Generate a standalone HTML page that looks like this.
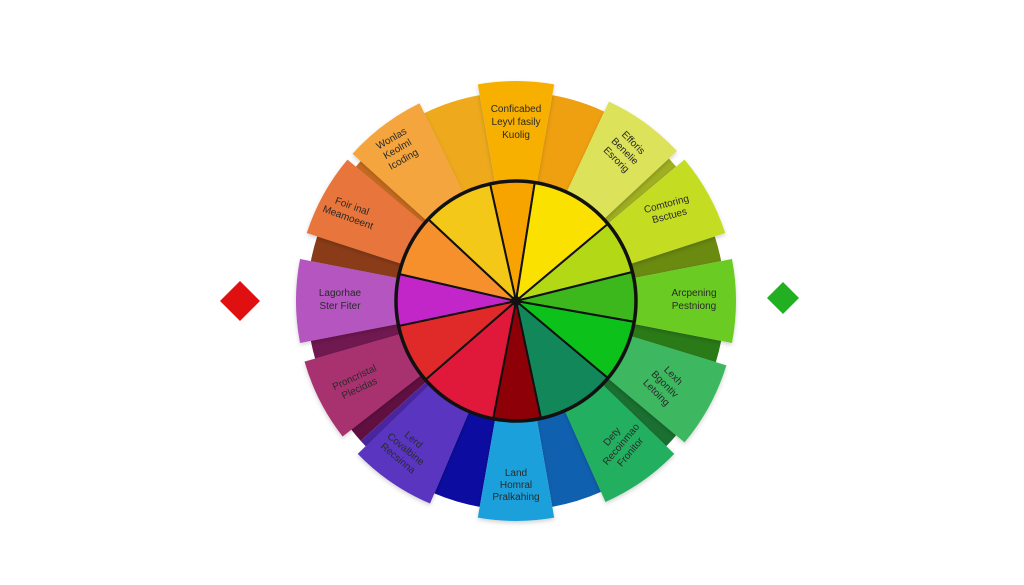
<!DOCTYPE html>
<html><head><meta charset="utf-8"><style>
html,body{margin:0;padding:0;background:#fff;}
svg{display:block;}
text{font-family:"Liberation Sans",sans-serif;font-size:10px;fill:#2a2a2a;text-anchor:middle;}
</style></head><body>
<svg id="s" width="1024" height="585" viewBox="0 0 1024 585" xmlns="http://www.w3.org/2000/svg">
<defs><filter id="sh" x="-20%" y="-20%" width="140%" height="140%"><feDropShadow dx="0" dy="2" stdDeviation="2" flood-color="#000" flood-opacity="0.18"/></filter></defs>
<polygon points="240,281 260,301 240,321 220,301" fill="#e01010"/>
<polygon points="783,282 799,298 783,314 767,298" fill="#22b022"/>
<g id="ring"></g>
<g id="cards" filter="url(#sh)"></g>
<g id="inner"></g>
<g id="labels">
<text x="516" y="112">Conficabed</text><text x="516" y="125">Leyvl fasily</text><text x="516" y="138">Kuolig</text>
<g transform="translate(398,150) rotate(-30)"><text y="-10">Wonlas</text><text y="2">Keolml</text><text y="14">Icoding</text></g>
<g transform="translate(350,212) rotate(20)"><text y="-3">Foir inal</text><text y="9">Meamoeent</text></g>
<text x="340" y="296">Lagorhae</text><text x="340" y="309">Ster Fiter</text>
<g transform="translate(357,383) rotate(-25)"><text y="-3">Proncristal</text><text y="9">Plecidas</text></g>
<g transform="translate(405,450) rotate(40)"><text y="-10">Lerd</text><text y="2">Covalbine</text><text y="14">Recsinna</text></g>
<text x="516" y="476">Land</text><text x="516" y="488">Homral</text><text x="516" y="500">Pralkahing</text>
<g transform="translate(624,152) rotate(45)"><text y="-10">Efforis</text><text y="2">Benelie</text><text y="14">Esrorig</text></g>
<g transform="translate(668,210) rotate(-15)"><text y="-3">Comtoring</text><text y="9">Bsctues</text></g>
<text x="694" y="296">Arcpening</text><text x="694" y="309">Pestniong</text>
<g transform="translate(664,385) rotate(45)"><text y="-10">Lexh</text><text y="2">Bgontiv</text><text y="14">Letoing</text></g>
<g transform="translate(622,445) rotate(-50)"><text y="-10">Dety</text><text y="2">Recoinmao</text><text y="14">Fronitor</text></g>
</g>
</svg>
<script>
var cx=516,cy=301,NS="http://www.w3.org/2000/svg";
function P(r,a){a=a*Math.PI/180;return [cx+r*Math.sin(a),cy-r*Math.cos(a)];}
function seg(r1,r2,a1,a2){var p1=P(r2,a1),p2=P(r2,a2),p3=P(r1,a2),p4=P(r1,a1);var l=(a2-a1)>180?1:0;
return "M"+p1+" A"+r2+","+r2+" 0 "+l+" 1 "+p2+" L"+p3+" A"+r1+","+r1+" 0 "+l+" 0 "+p4+"Z";}
function wedge(r,a1,a2){var p1=P(r,a1),p2=P(r,a2);return "M"+cx+","+cy+" L"+p1+" A"+r+","+r+" 0 0 1 "+p2+"Z";}
function add(g,d,f,extra){var e=document.createElementNS(NS,"path");e.setAttribute("d",d);e.setAttribute("fill",f);if(extra)for(var k in extra)e.setAttribute(k,extra[k]);document.getElementById(g).appendChild(e);}
var ring=[[-26,-10,"#eeaa1c"],[10,25,"#eea010"],[-50,-48,"#c86c20"],[-79,-72,"#8a3c18"],[-106,-101,"#701850"],[-132,-128,"#601040"],[190,203,"#0c0ca0"],[156,170,"#1060b0"],[130,134,"#1a7030"],[101,107,"#2a7a18"],[72,79,"#6a8a10"],[47,50,"#a0b020"],[-48,-26,"#e09030"],[-72,-50,"#c85a28"],[-101,-79,"#8a3a90"],[-128,-106,"#801e55"],[-157,-132,"#4a25a0"],[134,156,"#189050"],[107,130,"#2a9048"]];
ring.forEach(function(s){add("ring",seg(118,209,s[0],s[1]),s[2]);});
var cards=[[-10,10,"#f8b000"],[-48,-26,"#f5a53c"],[-72,-50,"#e8743a"],[-101,-79,"#b455c0"],[-128,-106,"#a83070"],[-157,-134,"#5a35c0"],[170,190,"#1aa0dc"],[134,156,"#20b060"],[107,130,"#3cb860"],[79,101,"#6acc20"],[50,72,"#c4dc22"],[25,47,"#dce25a"]];
cards.forEach(function(s){add("cards",seg(118,220,s[0],s[1]),s[2]);});
var inner=[[-12.5,9,"#f7a400"],[9,50,"#fbe100"],[50,76,"#b2d816"],[76,100,"#3cb81c"],[100,130,"#0cc21a"],[130,168,"#11875a"],[168,191,"#8e0008"],[191,229,"#e0183a"],[229,258,"#e02a2a"],[258,283,"#c326c8"],[283,313,"#f5902c"],[313,347.5,"#f3c818"]];
inner.forEach(function(s){add("inner",wedge(120,s[0],s[1]),s[2],{stroke:"#111","stroke-width":"2"});});
var c=document.createElementNS(NS,"circle");c.setAttribute("cx",cx);c.setAttribute("cy",cy);c.setAttribute("r",120);c.setAttribute("fill","none");c.setAttribute("stroke","#111");c.setAttribute("stroke-width","3.5");document.getElementById("inner").appendChild(c);
var d=document.createElementNS(NS,"circle");d.setAttribute("cx",cx);d.setAttribute("cy",cy);d.setAttribute("r",5);d.setAttribute("fill","#111");document.getElementById("inner").appendChild(d);
</script>
</body></html>
